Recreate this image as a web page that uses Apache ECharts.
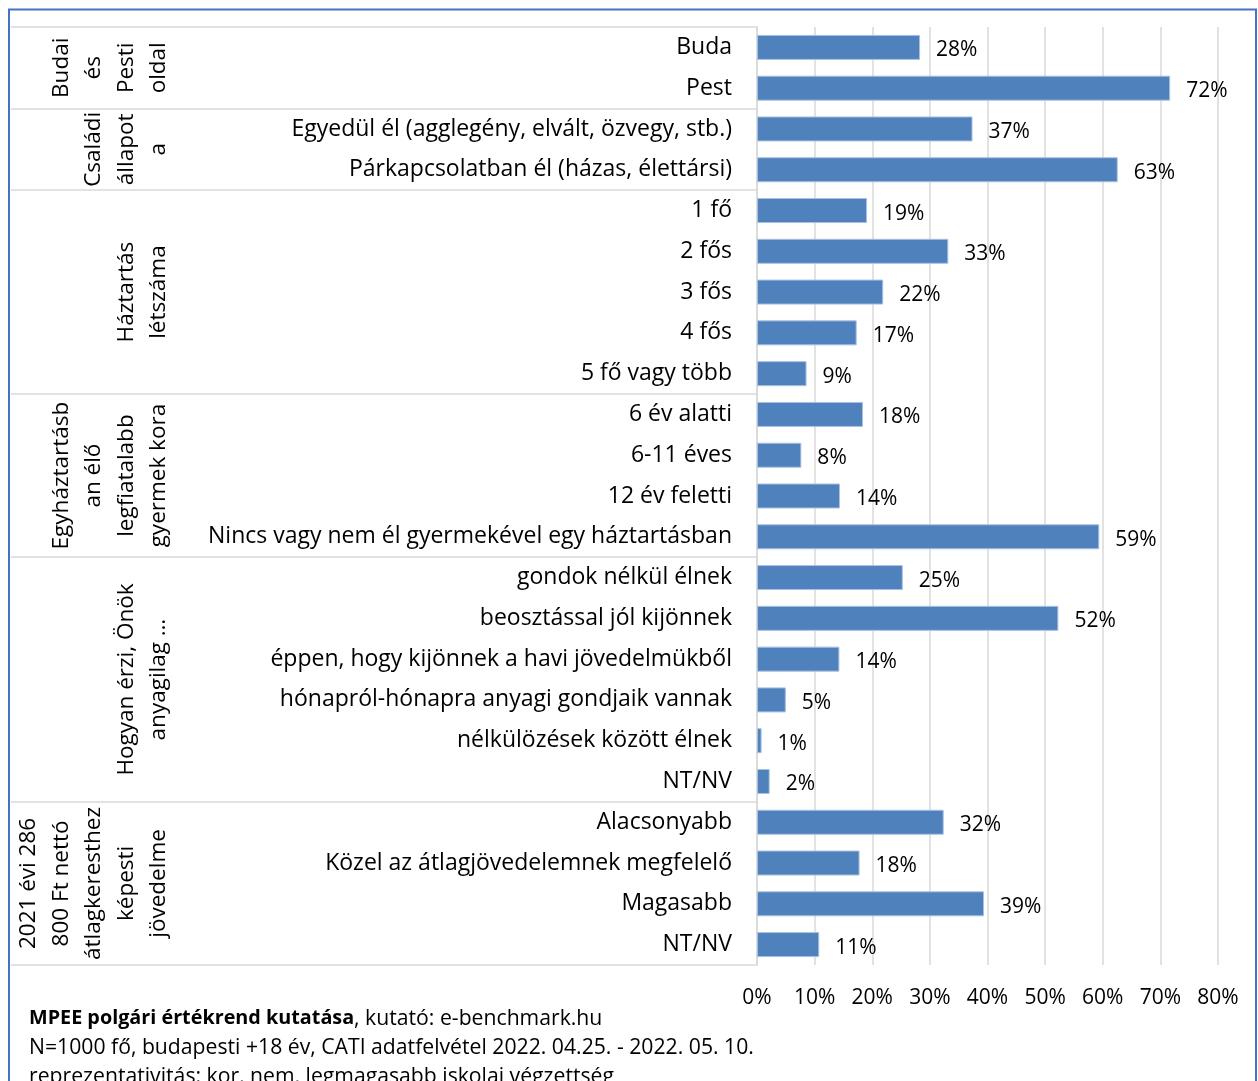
<!DOCTYPE html>
<html>
<head>
<meta charset="utf-8">
<script src="https://cdn.jsdelivr.net/npm/echarts@6/dist/echarts.min.js"></script>
<style>
  html, body { margin: 0; padding: 0; background: #fff; }
  #chart { width: 1258px; height: 1081px; }
</style>
</head>
<body>
<div id="chart"></div>
<script>
// ---- data ----
const categories = [
  'Buda', 'Pest',
  'Egyedül él (agglegény, elvált, özvegy, stb.)', 'Párkapcsolatban él (házas, élettársi)',
  '1 fő', '2 fős', '3 fős', '4 fős', '5 fő vagy több',
  '6 év alatti', '6-11 éves', '12 év feletti', 'Nincs vagy nem él gyermekével egy háztartásban',
  'gondok nélkül élnek', 'beosztással jól kijönnek', 'éppen, hogy kijönnek a havi jövedelmükből',
  'hónapról-hónapra anyagi gondjaik vannak', 'nélkülözések között élnek', 'NT/NV',
  'Alacsonyabb', 'Közel az átlagjövedelemnek megfelelő', 'Magasabb', 'NT/NV '
];
const values = [
  28.3, 71.7,
  37.4, 62.6,
  19.1, 33.2, 21.9, 17.3, 8.6,
  18.4, 7.7, 14.4, 59.4,
  25.3, 52.3, 14.3, 5.0, 0.8, 2.2,
  32.4, 17.8, 39.4, 10.8
];
const groupNames = [
  'Budai\nés\nPesti\noldal',
  'Családi\nállapot\na',
  'Háztartás\nlétszáma',
  'Egyháztartásb\nan élő\nlegfiatalabb\ngyermek kora',
  'Hogyan érzi, Önök\nanyagilag …',
  '2021 évi 286\n800 Ft nettó\nátlagkeresthez\nképesti\njövedelme'
];
const groupSizes = [2, 2, 5, 4, 6, 4];
const xTicks = { min: 0, max: 80, interval: 10 };
const footerLines = [
  ['MPEE polgári értékrend kutatása', ', kutató: e-benchmark.hu'],
  ['N=1000 fő, budapesti +18 év, CATI adatfelvétel 2022. 04.25. - 2022. 05. 10.'],
  ['reprezentativitás: kor, nem, legmagasabb iskolai végzettség']
];

// group boundary indices
const boundaries = [];
{ let s = 0; groupSizes.forEach(n => { boundaries.push(s); s += n; }); }

const FONT = 'Open Sans';
const FS = 21;      // numbers
const FS_CAT = 23;  // category text
const FS_GRP = 22.5;
const chart = echarts.init(document.getElementById('chart'), null, { renderer: 'canvas' });

const option = {
  animation: false,
  backgroundColor: '#fff',
  textStyle: { fontFamily: FONT },
  grid: { left: 757, right: 40, top: 27, bottom: 116, containLabel: false },
  xAxis: {
    type: 'value',
    min: xTicks.min, max: xTicks.max, interval: xTicks.interval,
    axisLine: { show: false },
    axisTick: { show: false },
    axisLabel: { formatter: '{value}%', fontSize: FS, color: '#000', margin: 23, fontFamily: FONT },
    splitLine: { show: true, lineStyle: { color: '#d9d9d9', width: 1.5 } }
  },
  yAxis: {
    type: 'category',
    inverse: true,
    data: categories,
    axisLine: { show: true, lineStyle: { color: '#d9d9d9', width: 1.5 } },
    axisTick: {
      show: true,
      length: 746,
      interval: function (index) { return boundaries.indexOf(index) >= 0; },
      lineStyle: { color: '#d9d9d9', width: 1.5 }
    },
    axisLabel: {
      fontSize: FS_CAT, color: '#000', margin: 25, fontFamily: FONT, interval: 0,
      padding: [6, 0, 0, 0],
      formatter: v => v.trim()
    }
  },
  series: [{
    type: 'bar',
    data: values,
    barWidth: 25,
    itemStyle: { color: '#4f81bd', borderColor: '#a9c1df', borderWidth: 1 },
    label: {
      show: true, position: 'right', distance: 16, offset: [0, 3],
      formatter: p => Math.round(p.value) + '%',
      fontSize: FS, color: '#000', fontFamily: FONT
    }
  }]
};
chart.setOption(option);

// group labels placed through the category axis scale
const graphics = [];
let start = 0;
groupNames.forEach((name, gi) => {
  const first = categories[start];
  const last = categories[start + groupSizes[gi] - 1];
  const y1 = chart.convertToPixel({ yAxisIndex: 0 }, first);
  const y2 = chart.convertToPixel({ yAxisIndex: 0 }, last);
  const cy = (y1 + y2) / 2;
  graphics.push({
    type: 'text',
    x: 175, y: cy,
    rotation: Math.PI / 2,
    style: {
      text: name,
      fontFamily: FONT, fontSize: FS_GRP, fill: '#000',
      align: 'center', verticalAlign: 'bottom',
      lineHeight: 32.5
    }
  });
  start += groupSizes[gi];
});

// outer border
graphics.push({
  type: 'rect', shape: { x: 9, y: 9.5, width: 1247, height: 1100 },
  style: { fill: 'none', stroke: '#4472c4', lineWidth: 2 }, silent: true
});

// footer
graphics.push({
  type: 'text', x: 29, y: 1004,
  style: {
    text: '{b|' + footerLines[0][0] + '}{n|' + footerLines[0][1] + '}\n{n|' + footerLines[1][0] + '}\n{n|' + footerLines[2][0] + '}',
    rich: {
      b: { fontFamily: FONT, fontSize: 19.8, fontWeight: 'bold', fill: '#000', lineHeight: 29 },
      n: { fontFamily: FONT, fontSize: 21.2, fill: '#000', lineHeight: 29 }
    },
    align: 'left', verticalAlign: 'top'
  }
});

chart.setOption({ graphic: graphics });
</script>
</body>
</html>
